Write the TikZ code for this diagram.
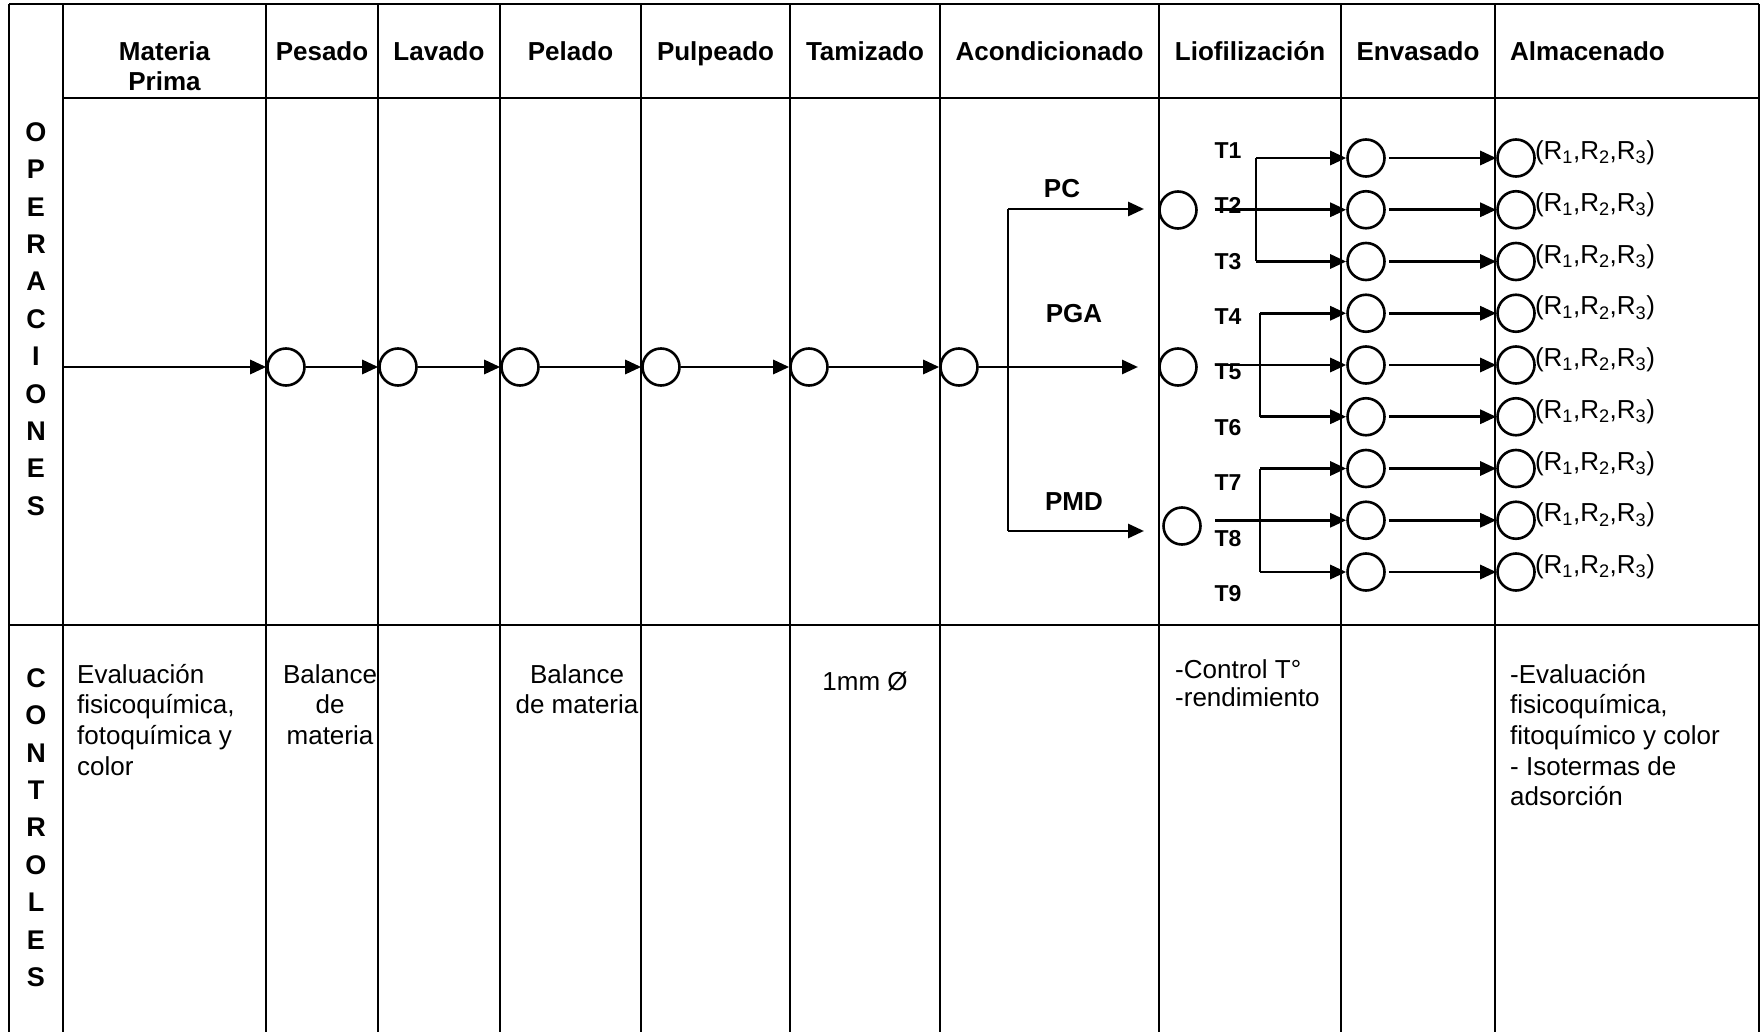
\documentclass[tikz,border=0pt]{standalone}
\usepackage{fontspec}
\setmainfont{Liberation Sans}
\usetikzlibrary{arrows.meta}
\begin{document}
\begin{tikzpicture}[x=1pt,y=-1pt,
  grid/.style={line width=1.6pt},
  flow/.style={line width=2.9pt,-{Triangle[length=16pt,width=14pt]}},
  plain/.style={line width=2.9pt},
  circ/.style={circle,draw,line width=2.6pt,minimum size=37pt,inner sep=0pt},
  hdr/.style={font=\fontsize{26}{30}\selectfont\bfseries,align=center,inner sep=0pt},
  vlab/.style={font=\fontsize{27}{37.4}\selectfont\bfseries,align=center,inner sep=0pt,anchor=north},
  ctext/.style={font=\fontsize{26}{30.6}\selectfont,align=left,inner sep=0pt},
  blab/.style={font=\fontsize{26}{30}\selectfont\bfseries,inner sep=0pt},
  tlab/.style={font=\fontsize{23}{27}\selectfont\bfseries,inner sep=0pt},
  rlab/.style={font=\fontsize{26}{30}\selectfont,inner sep=0pt,anchor=west}
]
\useasboundingbox (0,0) rectangle (1761,1032);
% grid
\draw[grid] (9,4) -- (1759,4);
\foreach \gx in {9,63,266,378,500,641,790,940,1159,1341,1495,1759}
  \draw[grid] (\gx,4) -- (\gx,1032);
\draw[grid] (63,98) -- (1759,98);
\draw[grid] (9,625) -- (1759,625);
% side labels
\node[vlab] (ops) at (36,122.2) {O\\P\\E\\R\\A\\C\\I\\O\\N\\E\\S};
\node[vlab] (ctl) at (36,668.2) {C\\O\\N\\T\\R\\O\\L\\E\\S};
% headers
\node[hdr] (h1) at (164.5,66.5) {Materia\\Prima};
\node[hdr,anchor=base] (h2) at (322,61) {Pesado};
\node[hdr,anchor=base] (h3) at (439,61) {Lavado};
\node[hdr,anchor=base] (h4) at (570.5,61) {Pelado};
\node[hdr,anchor=base] (h5) at (715.5,61) {Pulpeado};
\node[hdr,anchor=base] (h6) at (865,61) {Tamizado};
\node[hdr,anchor=base] (h7) at (1049.5,61) {Acondicionado};
\node[hdr,anchor=base] (h8) at (1250,61) {Liofilización};
\node[hdr,anchor=base] (h9) at (1418,61) {Envasado};
\node[hdr,anchor=base west] (h10) at (1510,61) {Almacenado};
% main flow
\coordinate (start) at (63,367);
\node[circ] (c1) at (286,367) {};
\node[circ] (c2) at (398,367) {};
\node[circ] (c3) at (520,367) {};
\node[circ] (c4) at (661,367) {};
\node[circ] (c5) at (809,367) {};
\node[circ] (c6) at (959,367) {};
\draw[flow] (start) -- (c1);
\draw[flow] (c1) -- (c2);
\draw[flow] (c2) -- (c3);
\draw[flow] (c3) -- (c4);
\draw[flow] (c4) -- (c5);
\draw[flow] (c5) -- (c6);
% branches to liofilizacion
\node[circ] (l1) at (1178,210) {};
\node[circ] (l2) at (1178,367) {};
\node[circ] (l3) at (1182,526) {};
\coordinate (br1) at (1008,209);
\coordinate (br3) at (1008,531);
\coordinate (pcend) at (1144,209);
\coordinate (pgaend) at (1138,367);
\coordinate (pmdend) at (1144,531);
\draw[plain] (br1) -- (br3);
\draw[flow] (c6) -- (pgaend);
\draw[flow] (br1) -- (pcend);
\draw[flow] (br3) -- (pmdend);
\node[blab] (pc) at (1062,189) {PC};
\node[blab] (pga) at (1074,314) {PGA};
\node[blab] (pmd) at (1074,502) {PMD};
% rows
\foreach \i in {1,...,9} {
  \pgfmathsetmacro\ry{158+51.75*(\i-1)}
  \pgfmathsetmacro\ty{150.5+55.4*(\i-1)}
  \node[tlab] (t\i) at (1228,\ty) {T\i};
  \node[circ] (e\i) at (1366,\ry) {};
  \node[circ] (a\i) at (1516,\ry) {};
  \draw[flow,shorten <=3pt] (e\i) -- (a\i);
  \node[rlab] (r\i) at ([xshift=-1pt,yshift=5pt]a\i.east) {(R\textsubscript{1},R\textsubscript{2},R\textsubscript{3})};
}
% groups
\coordinate (g1s) at (1215,209.75);
\coordinate (v1) at (1256,158);
\coordinate (v3) at (1256,261.5);
\draw[plain] (v1) -- (v3);
\draw[flow] (v1) -- (e1);
\draw[flow] (v3) -- (e3);
\draw[flow] (g1s) -- (e2);
\coordinate (g2s) at (1215,365);
\coordinate (v4) at (1260,313.25);
\coordinate (v6) at (1260,416.75);
\draw[plain] (v4) -- (v6);
\draw[flow] (v4) -- (e4);
\draw[flow] (v6) -- (e6);
\draw[flow] (g2s) -- (e5);
\coordinate (g3s) at (1215,520.25);
\coordinate (v7) at (1260,468.5);
\coordinate (v9) at (1260,572);
\draw[plain] (v7) -- (v9);
\draw[flow] (v7) -- (e7);
\draw[flow] (v9) -- (e9);
\draw[flow] (g3s) -- (e8);
% controls
\node[ctext,anchor=north west] (k1) at (77,664) {Evaluación\\fisicoquímica,\\fotoquímica y\\color};
\node[ctext,align=center,anchor=north] (k2) at (330,664) {Balance\\de\\materia};
\node[ctext,align=center,anchor=north] (k3) at (577,664) {Balance\\de materia};
\node[ctext] (k4) at (865,682) {1mm Ø};
\node[ctext,anchor=north west,font=\fontsize{26}{28.5}\selectfont] (k5) at (1175,659) {-Control T°\\-rendimiento};
\node[ctext,anchor=north west] (k6) at (1510,664) {-Evaluación\\fisicoquímica,\\fitoquímico y color\\- Isotermas de\\adsorción};
\end{tikzpicture}
\end{document}
